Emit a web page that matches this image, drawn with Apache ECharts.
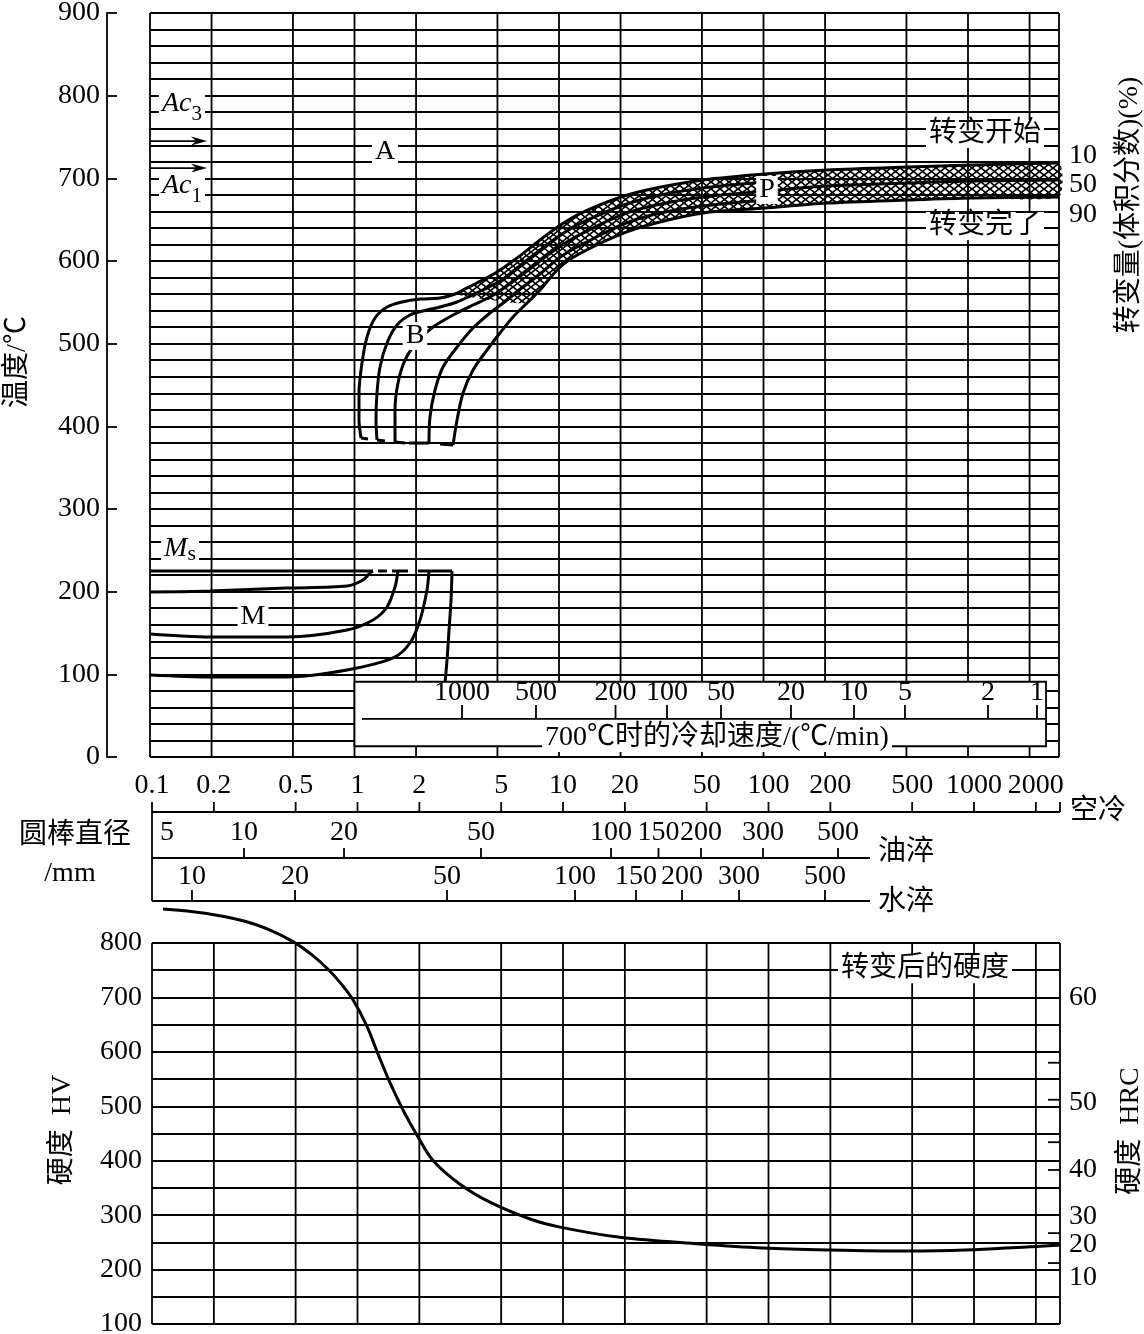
<!DOCTYPE html>
<html><head><meta charset="utf-8">
<script src="https://cdn.jsdelivr.net/npm/echarts@6/dist/echarts.min.js"></script>
<style>html,body{margin:0;padding:0;background:#fff}#c{width:1144px;height:1334px}</style>
</head><body><div id="c"></div>
<script>
// ---------------- data ----------------
const timeTicks = [0.1,0.2,0.5,1,2,5,10,20,50,100,200,500,1000,2000];
const tMaxTop = 2786, tMaxBot = 2621;
// bainite / pearlite transformation curves [time s, temperature C]
const bainite1 = [[1.076,385.9],[1.052,407.6],[1.052,440.3],[1.088,476.6],[1.151,508.0],[1.260,531.0],[1.442,544.3],[1.707,550.4],[2.091,554.0],[2.619,555.2],[3.101,560.1],[3.394,564.9],[3.972,573.4],[4.976,586.7],[6.232,603.6],[8.074,625.4],[10.0,642.3],[12.53,656.8],[20.10,677.4],[29.81,688.3],[50.61,698.0],[101.7,705.2],[204.5,710.0],[508.8,713.7],[1046,716.1],[2786,718.5]];
const bainite2 = [[1.288,383.5],[1.274,407.6],[1.288,440.3],[1.333,471.8],[1.442,500.8],[1.614,522.6],[1.868,534.7],[2.262,540.7],[2.619,544.3],[3.172,550.4],[3.672,557.6],[4.445,567.3],[5.147,575.8],[6.232,591.5],[8.074,613.3],[10.0,630.2],[12.53,644.7],[20.10,666.5],[29.81,678.6],[50.61,688.3],[101.7,695.5]];
const bainite3 = [[1.578,381.0],[1.578,419.7],[1.632,452.4],[1.766,480.2],[2.021,502.0],[2.420,520.1],[3.033,534.7],[3.798,546.8],[4.598,556.4],[5.569,569.7],[6.668,584.2],[8.074,600.0],[10.0,616.9],[12.53,631.4],[20.10,655.6],[29.81,667.7],[50.61,677.4],[101.7,684.6],[204.5,690.7],[508.8,694.3],[1046,696.7],[2786,698.0]];
const bainite4 = [[2.313,379.8],[2.339,411.3],[2.475,443.9],[2.709,471.8],[3.172,495.9],[3.798,518.9],[4.598,537.1],[5.569,552.8],[6.668,568.5],[8.074,584.2],[10.0,603.6],[12.53,618.1],[20.10,643.5],[29.81,656.8],[50.61,666.5],[101.7,673.8]];
const bainite5 = [[3.033,377.4],[3.172,407.6],[3.394,440.3],[3.798,468.1],[4.445,492.3],[5.147,512.9],[5.958,532.2],[6.976,549.2],[8.074,564.9],[10.0,591.5],[12.53,608.4],[20.10,632.6],[29.81,645.9],[50.61,658.0],[101.7,664.1],[204.5,670.1],[508.8,673.8],[1046,676.2],[2786,677.4]];
const bainiteFeet = [[1.076,385.9,1.164,384.7],[1.288,383.5,1.410,382.3],[1.578,381.0,1.766,379.8],[1.847,379.8,2.313,379.8],[2.619,378.6,3.033,377.4]];
const hatchCorner = [4.598,552.8];
// martensite
const mart1 = [[0.1,199.6],[0.1965,200.8],[0.4676,204.4],[0.919,206.8],[1.100,214.1],[1.191,222.6],[1.232,225.0]];
const mart2 = [[0.1,148.8],[0.1965,145.2],[0.4676,145.2],[0.919,153.6],[1.232,165.7],[1.442,181.4],[1.578,205.6],[1.632,225.0]];
const mart3 = [[0.1,99.2],[0.1965,96.8],[0.4676,96.8],[0.919,105.2],[1.543,119.8],[1.868,137.9],[2.091,165.7],[2.262,202.0],[2.313,225.0]];
const mart4 = [[2.999,225.0],[2.965,189.9],[2.899,153.6],[2.834,117.3],[2.771,89.5]];
const msTemp = 225;
const msSegments = [[0.1,1.232],[1.303,1.442],[1.526,1.827],[2.044,2.999]];
const acArrows = [[0.1,745.1,0.19],[0.1,712.4,0.19]];
// cooling rate at 700C scale
const coolRate = [1000,500,200,100,50,20,10,5,2,1];
const coolRateTime = [3.356,7.718,18.90,33.74,61.97,136.3,277.0,491.8,1253,2175];
const rateBox = [1, 91, 2407, 13];
const rateLine = [1.088, 46, 2407, 46];
// bar diameter scales
const oilDia = [5,10,20,50,100,150,200,300,500];
const oilTime = [0.1183,0.2804,0.8598,3.990,17.13,29.15,46.94,94.0,217.9];
const waterDia = [10,20,50,100,150,200,300,500];
const waterTime = [0.1565,0.4966,2.726,11.44,22.66,37.95,71.87,188.3];
const quenchScaleEnd = 311.8;
// hardness after transformation
const hardTime = [0.1131,0.1811,0.2804,0.3752,0.4855,0.6005,0.7187,0.8313,0.9508,1.112,1.258,1.439,1.665,1.948,2.330,3.154,4.413,6.909,9.670,18.94,46.42,94.0,199.2,472.1,904,2621];
const hardHV = [862.5,854.7,840.4,823.7,802.6,778.1,751.7,725.4,695.6,646.8,596.3,543.3,493.2,446.9,400.6,356.9,323.8,292.9,278.0,259.3,247.0,239.6,236.0,234.1,236.0,245.2];
const hrcLabel = [60,50,40,30,20,10];
const hrcLabelHV = [700,506,383,297,245,186];
const hrcTickHV = [580,512,434,383,350,267,212,199];
const hrcTickStart = 2292;
// in-plot labels [text, time, value]
const topLabels = [['Ac3',0.1434,790],['Ac1',0.1434,690.7],['A',1.410,731.8],['B',1.976,509.3],['P',104.0,685.9],['M',0.3189,169.3],['Ms',0.1402,251.6],['转变开始',1211,753.6],['转变完了',1211,642.3],['700℃时的冷却速度/(℃/min)',59.24,23]];
const botLabels = [['转变后的硬度',577.7,752]];

// ---------------- helpers ----------------
const FONT = '"Liberation Serif","Noto Sans CJK SC",serif';
const BLACK = '#000';
const GRID_W = 1.8, CURVE_W = 3;
function txtStyle(text, size, align, valign){
  return {text:text, font: size+'px '+FONT, fill:BLACK, align:align||'center', textAlign:align||'center', verticalAlign:valign||'middle', textVerticalAlign:valign||'middle'};
}
function segs(xi, yi, data, lw, z){
  return {type:'custom', xAxisIndex:xi, yAxisIndex:yi, z:z||3, silent:true, clip:false, animation:false,
    data:data,
    renderItem:function(p, api){
      const a = api.coord([api.value(0), api.value(1)]);
      const b = api.coord([api.value(2), api.value(3)]);
      return {type:'line', shape:{x1:a[0],y1:a[1],x2:b[0],y2:b[1]}, style:{stroke:BLACK, lineWidth:lw}};
    }};
}
function scaleSeries(xi, yi, vals, labels, lineV, tickV, labelV, noTick){
  return {type:'custom', xAxisIndex:xi, yAxisIndex:yi, z:7, silent:true, clip:false, animation:false,
    data: vals.map(function(v,i){return [v,i];}),
    renderItem:function(p, api){
      const t = api.value(0), i = api.value(1);
      const a = api.coord([t, lineV]), b = api.coord([t, tickV]), c = api.coord([t, labelV]);
      const ch = [];
      if (!(noTick && noTick.indexOf(i) >= 0)) ch.push({type:'line', shape:{x1:a[0],y1:a[1],x2:b[0],y2:b[1]}, style:{stroke:BLACK, lineWidth:GRID_W}});
      if (labels && labels[i] != null) ch.push({type:'text', x:c[0], y:c[1], style:txtStyle(String(labels[i]), 28)});
      return {type:'group', children:ch};
    }};
}
function curve(data, xi, yi, extra){
  return Object.assign({type:'line', xAxisIndex:xi, yAxisIndex:yi, data:data, symbol:'none', smooth:0.3,
    lineStyle:{color:BLACK, width:CURVE_W}, z:4, silent:true, animation:false}, extra||{});
}
function fmtLabel(n){
  if (n === 'Ac3') return '{i|Ac}{s|3}';
  if (n === 'Ac1') return '{i|Ac}{s|1}';
  if (n === 'Ms') return '{i|M}{s2|s}';
  return '{n|' + n + '}';
}
const labelRich = {
  n:{fontSize:28, fontFamily:FONT, color:BLACK, textBorderWidth:0},
  i:{fontStyle:'italic', fontSize:28, fontFamily:FONT, lineHeight:28, verticalAlign:'top', color:BLACK, textBorderWidth:0},
  s:{fontSize:21, fontFamily:FONT, lineHeight:20, padding:[14,0,0,0], verticalAlign:'top', color:BLACK, textBorderWidth:0},
  s2:{fontSize:22, fontFamily:FONT, lineHeight:20, padding:[8,0,0,0], verticalAlign:'top', color:BLACK, textBorderWidth:0}
};
function labelSeries(xi, yi, list){
  return {type:'scatter', xAxisIndex:xi, yAxisIndex:yi, z:9, silent:true, animation:false, symbolSize:1,
    itemStyle:{color:'#fff', opacity:1},
    data: list.map(function(l){return {name:l[0], value:[l[1], l[2]]};}),
    label:{show:true, position:'inside', formatter:function(p){return fmtLabel(p.name);}, rich:labelRich,
      backgroundColor:'#fff', padding:[0,3], color:BLACK, opacity:1, textBorderWidth:0, textBorderColor:'transparent',
      textShadowBlur:0, fontSize:28, fontFamily:FONT}};
}
// crosshatch pattern
const pc = document.createElement('canvas'); pc.width = 9; pc.height = 7;
(function(){ const g = pc.getContext('2d'); g.strokeStyle = '#000'; g.lineWidth = 1.7;
  g.beginPath(); g.moveTo(0,0); g.lineTo(9,7); g.moveTo(9,0); g.lineTo(0,7); g.stroke(); })();
const hatchPattern = {image: pc, repeat: 'repeat'};
const hatchPoly = bainite1.filter(function(p){return p[1] >= 560;})
  .concat(bainite5.filter(function(p){return p[1] >= 549;}).slice().reverse())
  .concat([hatchCorner]);

// ---------------- chart ----------------
const chart = echarts.init(document.getElementById('c'), null, {renderer:'canvas'});
const gridTop = timeTicks.concat([tMaxTop]);
const gridBot = timeTicks.concat([tMaxBot]);
const series = [
  segs(0, 0, gridTop.map(function(t){return [t,0,t,900];}), GRID_W, 1),
  segs(2, 3, gridBot.map(function(t){return [t,100,t,800];}), GRID_W, 1),
  {type:'custom', xAxisIndex:0, yAxisIndex:0, z:2, silent:true, animation:false, data:[[10,600]],
    renderItem:function(p, api){
      const pts = hatchPoly.map(function(q){return api.coord(q);});
      return {type:'polygon', shape:{points:pts, smooth:0.2}, style:{fill:hatchPattern, stroke:null}};
    }},
  curve(bainite1,0,0), curve(bainite2,0,0), curve(bainite3,0,0), curve(bainite4,0,0), curve(bainite5,0,0),
  segs(0, 0, bainiteFeet, CURVE_W, 4),
  curve(mart1,0,0), curve(mart2,0,0), curve(mart3,0,0), curve(mart4,0,0),
  segs(0, 0, msSegments.map(function(s){return [s[0],msTemp,s[1],msTemp];}), CURVE_W, 4),
  {type:'custom', xAxisIndex:0, yAxisIndex:0, z:4, silent:true, animation:false, data:acArrows,
    renderItem:function(p, api){
      const a = api.coord([api.value(0), api.value(1)]), b = api.coord([api.value(2), api.value(1)]);
      return {type:'group', children:[
        {type:'line', shape:{x1:a[0],y1:a[1],x2:b[0]-4,y2:b[1]}, style:{stroke:BLACK, lineWidth:1.8}},
        {type:'polygon', shape:{points:[[b[0],b[1]],[b[0]-16,b[1]-4.5],[b[0]-11,b[1]],[b[0]-16,b[1]+4.5]]}, style:{fill:BLACK}}
      ]};
    }},
  {type:'custom', xAxisIndex:0, yAxisIndex:0, z:5, silent:true, animation:false, data:[rateBox],
    renderItem:function(p, api){
      const a = api.coord([api.value(0), api.value(1)]), b = api.coord([api.value(2), api.value(3)]);
      return {type:'rect', shape:{x:a[0], y:a[1], width:b[0]-a[0], height:b[1]-a[1]}, style:{fill:'#fff', stroke:BLACK, lineWidth:GRID_W}};
    }},
  segs(0, 0, [rateLine], GRID_W, 6),
  scaleSeries(0, 0, coolRateTime, coolRate, 46, 63, 77.4),
  segs(1, 2, [[0.1,52,tMaxBot,52],[0.1,98,quenchScaleEnd,98],[0.1,141,quenchScaleEnd,141],[0.1,52,0.1,141]], GRID_W, 6),
  scaleSeries(1, 2, timeTicks.concat([tMaxBot]), timeTicks.map(String), 52, 42, 26),
  scaleSeries(1, 2, oilTime, oilDia, 98, 88, 73, [0]),
  scaleSeries(1, 2, waterTime, waterDia, 141, 130, 117),
  curve(hardTime.map(function(t,i){return [t, hardHV[i]];}), 2, 3, {clip:false, smooth:0.35}),
  segs(2, 3, hrcTickHV.map(function(h){return [hrcTickStart,h,tMaxBot,h];}), GRID_W, 6),
  {type:'custom', xAxisIndex:2, yAxisIndex:3, z:7, silent:true, clip:false, animation:false,
    data: hrcLabelHV.map(function(h,i){return [tMaxBot, h, i];}),
    renderItem:function(p, api){
      const c = api.coord([api.value(0), api.value(1)]);
      return {type:'text', x:c[0]+9, y:c[1], style:txtStyle(String(hrcLabel[api.value(2)]), 28, 'left')};
    }},
  labelSeries(0, 0, topLabels),
  labelSeries(2, 3, botLabels)
];

const graphicTexts = [
  {text:'温度/℃', x:18, y:362, rot:true},
  {text:'转变量(体积分数)(%)', x:1130, y:205, rot:true},
  {text:'10', x:1083, y:156}, {text:'50', x:1083, y:185}, {text:'90', x:1083, y:215},
  {text:'圆棒直径', x:75, y:836}, {text:'/mm', x:70, y:874},
  {text:'空冷', x:1098, y:812}, {text:'油淬', x:906, y:853}, {text:'水淬', x:906, y:903},
  {text:'硬度  HV', x:63, y:1130, rot:true}, {text:'硬度  HRC', x:1131, y:1131, rot:true}
];

chart.setOption({
  animation:false,
  backgroundColor:'#fff',
  textStyle:{fontFamily:FONT, color:BLACK},
  grid:[
    {left:150, right:85, top:13, height:744, containLabel:false, outerBoundsMode:'none'},
    {left:152, right:84, top:760, height:160, containLabel:false, outerBoundsMode:'none'},
    {left:152, right:84, top:943, height:381, containLabel:false, outerBoundsMode:'none'}
  ],
  xAxis:[
    {gridIndex:0, type:'log', logBase:10, min:0.1, max:tMaxTop, show:false},
    {gridIndex:1, type:'log', logBase:10, min:0.1, max:tMaxBot, show:false},
    {gridIndex:2, type:'log', logBase:10, min:0.1, max:tMaxBot, show:false}
  ],
  yAxis:[
    {gridIndex:0, type:'value', min:0, max:900, interval:20, axisLine:{show:false}, axisTick:{show:false}, axisLabel:{show:false},
      splitLine:{show:true, lineStyle:{color:BLACK, width:GRID_W}}},
    {gridIndex:0, type:'value', min:0, max:900, interval:100, position:'left', offset:43,
      axisLine:{show:true, lineStyle:{color:BLACK, width:GRID_W}},
      axisTick:{show:true, inside:true, length:10, lineStyle:{color:BLACK, width:GRID_W}},
      axisLabel:{show:true, fontSize:28, fontFamily:FONT, color:BLACK, margin:7},
      splitLine:{show:false}},
    {gridIndex:1, type:'value', min:0, max:160, inverse:true, show:false},
    {gridIndex:2, type:'value', min:100, max:800, interval:50, axisLine:{show:false}, axisTick:{show:false},
      axisLabel:{show:true, fontSize:28, fontFamily:FONT, color:BLACK, margin:10, formatter:function(v){return v % 100 === 0 ? String(v) : '';}},
      splitLine:{show:true, lineStyle:{color:BLACK, width:GRID_W}}}
  ],
  series:series,
  graphic: graphicTexts.map(function(g){
    return {type:'text', x:g.x, y:g.y, rotation: g.rot ? Math.PI/2 : 0, silent:true, z:10,
      style: txtStyle(g.text, 28)};
  })
});
</script>
</body></html>
